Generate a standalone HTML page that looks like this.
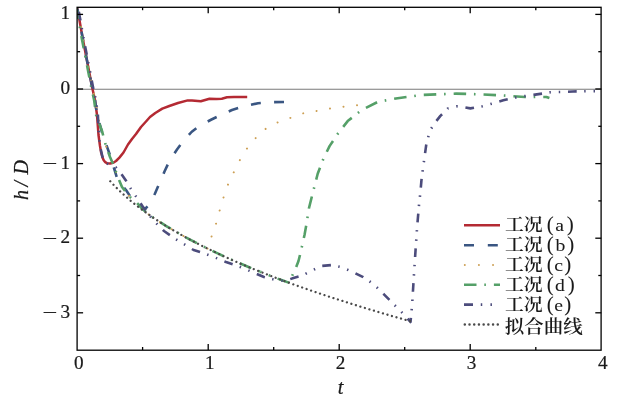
<!DOCTYPE html>
<html><head><meta charset="utf-8"><style>html,body{margin:0;padding:0;background:#fff;overflow:hidden}svg{display:block}</style></head>
<body><svg width="628" height="401" viewBox="0 0 628 401">
<rect width="628" height="401" fill="#fff"/>
<defs><clipPath id="pa"><rect x="77.1" y="7.3" width="524.2" height="342.9"/></clipPath></defs>
<line x1="77.1" y1="89.3" x2="601.3" y2="89.3" stroke="#7a7a7a" stroke-width="1.1"/>
<g clip-path="url(#pa)">
<polyline points="77.2,7.5 83.0,40.0 92.5,89.0 95.0,100.0 97.0,115.0 98.5,135.0 100.0,146.0 101.1,152.4 102.5,157.5 103.7,160.2 105.3,162.2 107.2,163.3 110.0,163.5 113.3,162.8 116.0,161.0 119.4,157.6 123.5,152.5 128.0,144.5 132.0,139.0 136.0,134.0 141.0,127.0 146.0,121.5 150.0,117.0 155.3,113.0 162.3,108.6 169.3,106.0 178.0,103.0 187.7,100.4 192.0,100.4 200.8,101.3 209.5,98.7 216.5,99.0 221.8,98.7 227.0,97.3 234.0,96.9 247.2,96.9" fill="none" stroke="#b42a33" stroke-width="2.5" stroke-dasharray="none" stroke-dashoffset="0" stroke-linecap="butt" stroke-linejoin="round"/>
<polyline points="77.2,7.5 83.0,40.0 92.5,89.0 95.0,100.0 97.0,115.0 100.0,125.0 103.0,136.0 106.0,144.0 110.0,155.0 114.0,168.0 117.0,178.0 121.0,184.0 126.0,190.0 130.0,196.0 136.0,202.5 142.0,207.5 145.5,208.5 149.0,205.0 152.0,200.0 155.0,193.5 158.0,186.5 161.0,179.5 164.5,171.5 168.0,164.0 172.0,157.0 177.0,149.5 183.0,141.5 191.5,132.0 200.0,125.5 211.5,119.5 222.0,114.5 232.0,110.0 245.0,106.0 258.0,103.2 270.0,102.2 284.0,102.0" fill="none" stroke="#3a5682" stroke-width="2.6" stroke-dasharray="10 13.3" stroke-dashoffset="22.1" stroke-linecap="butt" stroke-linejoin="round"/>
<polyline points="77.6,7.5 83.4,40.0 92.9,89.0 95.4,100.0 97.4,115.0 102.0,131.0 106.0,146.0 110.0,157.0 114.0,166.0 117.0,175.0 122.0,187.0 130.0,197.0 137.0,203.0 143.0,209.5 149.2,214.9 154.1,218.2 159.0,221.5 163.9,224.6 168.8,227.6 173.7,230.5 178.7,233.4 183.6,236.1 188.5,238.8 193.4,241.4 198.3,244.0 203.2,246.4 208.2,248.9 211.7,236.0 216.2,223.2 219.9,209.7 224.0,195.8 228.0,184.6 234.0,171.8 240.0,159.9 245.9,149.9 253.9,139.9 263.9,129.9 276.0,123.0 289.6,118.2 303.0,113.4 316.4,111.0 329.8,108.6 343.2,106.7 356.6,105.2 362.0,104.6" fill="none" stroke="#cda055" stroke-width="2.0" stroke-dasharray="0.01 13.6" stroke-dashoffset="7.4" stroke-linecap="round" stroke-linejoin="round"/>
<polyline points="76.3,7.5 82.1,40.0 91.6,89.0 94.1,100.0 96.1,115.0 102.0,131.0 106.0,146.0 110.0,157.0 114.0,166.0 117.0,175.0 122.0,187.0 130.0,197.0 137.0,203.0 143.0,209.5 149.2,214.9 155.0,218.9 160.9,222.7 166.7,226.3 172.5,229.8 178.4,233.2 184.2,236.5 190.1,239.7 195.9,242.7 201.8,245.7 207.6,248.6 213.4,251.4 219.3,254.2 225.1,256.9 231.0,259.5 236.8,262.0 242.7,264.5 248.5,267.0 254.3,269.4 260.2,271.7" fill="none" stroke="#55a068" stroke-width="2.6" stroke-dasharray="12.5 7.8 1.6 8" stroke-dashoffset="1.04999999999999" stroke-linecap="butt" stroke-linejoin="round"/>
<polyline points="260.2,271.7 266.0,274.1 271.9,276.3 277.7,278.6 283.6,280.7 289.4,282.9 292.5,275.0 296.0,267.5 298.5,261.0 300.5,253.0 302.5,244.0 304.5,235.0 306.5,224.0 309.0,208.0 312.0,196.0 317.7,173.8 323.7,157.9 329.7,145.9 337.7,133.9 347.7,121.1 361.7,110.0 377.6,102.0 395.9,98.5 421.7,95.0 456.1,93.6 481.9,94.4 503.4,95.5 524.9,97.0 546.4,97.0 549.4,98.0" fill="none" stroke="#55a068" stroke-width="2.6" stroke-dasharray="12.5 7.8 1.6 8" stroke-dashoffset="11.158844637219588" stroke-linecap="butt" stroke-linejoin="round"/>
<polyline points="78.1,7.5 83.9,40.0 93.4,89.0 95.9,100.0 97.9,115.0 98.8,135.0 100.0,146.0 102.5,157.0 104.5,162.0 110.0,165.0 116.0,167.5 120.5,172.7 125.7,180.2 131.0,189.0 137.0,198.0 143.0,207.0 150.0,216.0 155.0,222.0 164.0,231.0 174.0,238.0 182.0,243.0 193.6,250.0 206.0,254.0 215.0,257.5 226.0,262.0 235.0,265.0 244.0,268.4 252.0,272.0 264.0,277.0 276.0,280.0 285.0,281.0 293.5,278.0 302.5,275.5 310.2,271.4 321.4,266.0 331.9,265.0 342.3,267.4 352.8,272.0 363.2,277.2 373.7,284.2 384.2,294.6 394.6,305.1 405.1,315.6 410.5,322.0 412.1,305.1 413.8,277.2 415.6,249.3 417.3,224.9 419.1,204.0 420.4,192.3 421.6,178.8 423.4,165.3 426.3,144.4 429.9,130.9 434.4,123.4 440.4,115.9 447.9,108.4 456.9,106.3 464.7,107.4 470.4,108.4 482.3,106.3 492.8,103.4 503.3,100.3 518.0,97.0 533.5,94.9 542.1,93.6 550.7,92.2 560.3,92.0 573.0,91.5 587.2,91.2 601.0,91.1" fill="none" stroke="#4c4c7c" stroke-width="2.6" stroke-dasharray="8.7 7.5 1.45 7.9 1.45 7.8" stroke-dashoffset="30.25" stroke-linecap="butt" stroke-linejoin="round"/>
<polyline points="108.9,179.8 114.0,185.3 119.0,190.3 124.1,195.0 129.1,199.5 134.1,203.6 139.2,207.6 144.2,211.3 149.3,214.9 154.3,218.4 159.3,221.7 164.4,224.9 169.4,228.0 174.5,230.9 179.5,233.8 184.5,236.7 189.6,239.4 194.6,242.0 199.6,244.6 204.7,247.2 209.7,249.6 214.8,252.0 219.8,254.4 224.8,256.7 229.9,259.0 234.9,261.2 240.0,263.4 245.0,265.5 250.0,267.6 255.1,269.7 260.1,271.7 265.2,273.7 270.2,275.7 275.2,277.6 280.3,279.5 285.3,281.4 290.3,283.2 295.4,285.1 300.4,286.9 305.5,288.6 310.5,290.4 315.5,292.1 320.6,293.8 325.6,295.5 330.7,297.2 335.7,298.8 340.7,300.4 345.8,302.0 350.8,303.6 355.8,305.2 360.9,306.8 365.9,308.3 371.0,309.8 376.0,311.3 381.0,312.8 386.1,314.3 391.1,315.8 396.2,317.2 401.2,318.6 406.2,320.1 411.3,321.5" fill="none" stroke="#4a4a4a" stroke-width="2.3" stroke-dasharray="0.01 4.7" stroke-dashoffset="2.7" stroke-linecap="round" stroke-linejoin="round"/>
</g>
<g stroke="#000" stroke-width="1.3"><line x1="142.6" y1="350" x2="142.6" y2="347"/><line x1="142.6" y1="7.2" x2="142.6" y2="10.2"/><line x1="208.2" y1="350" x2="208.2" y2="344"/><line x1="208.2" y1="7.2" x2="208.2" y2="13.2"/><line x1="273.7" y1="350" x2="273.7" y2="347"/><line x1="273.7" y1="7.2" x2="273.7" y2="10.2"/><line x1="339.2" y1="350" x2="339.2" y2="344"/><line x1="339.2" y1="7.2" x2="339.2" y2="13.2"/><line x1="404.7" y1="350" x2="404.7" y2="347"/><line x1="404.7" y1="7.2" x2="404.7" y2="10.2"/><line x1="470.2" y1="350" x2="470.2" y2="344"/><line x1="470.2" y1="7.2" x2="470.2" y2="13.2"/><line x1="535.8" y1="350" x2="535.8" y2="347"/><line x1="535.8" y1="7.2" x2="535.8" y2="10.2"/><line x1="77.1" y1="312.8" x2="83.1" y2="312.8"/><line x1="601.3" y1="312.8" x2="595.3" y2="312.8"/><line x1="77.1" y1="275.5" x2="80.1" y2="275.5"/><line x1="601.3" y1="275.5" x2="598.3" y2="275.5"/><line x1="77.1" y1="238.2" x2="83.1" y2="238.2"/><line x1="601.3" y1="238.2" x2="595.3" y2="238.2"/><line x1="77.1" y1="200.9" x2="80.1" y2="200.9"/><line x1="601.3" y1="200.9" x2="598.3" y2="200.9"/><line x1="77.1" y1="163.6" x2="83.1" y2="163.6"/><line x1="601.3" y1="163.6" x2="595.3" y2="163.6"/><line x1="77.1" y1="126.3" x2="80.1" y2="126.3"/><line x1="601.3" y1="126.3" x2="598.3" y2="126.3"/><line x1="77.1" y1="89.0" x2="83.1" y2="89.0"/><line x1="601.3" y1="89.0" x2="595.3" y2="89.0"/><line x1="77.1" y1="51.7" x2="80.1" y2="51.7"/><line x1="601.3" y1="51.7" x2="598.3" y2="51.7"/><line x1="77.1" y1="14.4" x2="83.1" y2="14.4"/><line x1="601.3" y1="14.4" x2="595.3" y2="14.4"/></g>
<rect x="77.1" y="7.3" width="524.0" height="342.9" fill="none" stroke="#000" stroke-width="1.3"/>
<g fill="#1a1a1a"><text x="78.7" y="368.7" text-anchor="middle" font-family="Liberation Serif, serif" stroke="#1a1a1a" stroke-width="0.22" font-size="19.2">0</text><text x="209.8" y="368.7" text-anchor="middle" font-family="Liberation Serif, serif" stroke="#1a1a1a" stroke-width="0.22" font-size="19.2">1</text><text x="340.6" y="368.7" text-anchor="middle" font-family="Liberation Serif, serif" stroke="#1a1a1a" stroke-width="0.22" font-size="19.2">2</text><text x="471.6" y="368.7" text-anchor="middle" font-family="Liberation Serif, serif" stroke="#1a1a1a" stroke-width="0.22" font-size="19.2">3</text><text x="602.8" y="368.7" text-anchor="middle" font-family="Liberation Serif, serif" stroke="#1a1a1a" stroke-width="0.22" font-size="19.2">4</text><text x="65.2" y="19.4" text-anchor="middle" font-family="Liberation Serif, serif" stroke="#1a1a1a" stroke-width="0.22" font-size="19.2">1</text><text x="65.2" y="94.0" text-anchor="middle" font-family="Liberation Serif, serif" stroke="#1a1a1a" stroke-width="0.22" font-size="19.2">0</text><text x="42.4" y="170.1" font-family="Liberation Serif, serif" stroke="#1a1a1a" stroke-width="0.22" font-size="19.2" textLength="14.8" lengthAdjust="spacingAndGlyphs">−</text><text x="65.2" y="168.6" text-anchor="middle" font-family="Liberation Serif, serif" stroke="#1a1a1a" stroke-width="0.22" font-size="19.2">1</text><text x="42.4" y="244.7" font-family="Liberation Serif, serif" stroke="#1a1a1a" stroke-width="0.22" font-size="19.2" textLength="14.8" lengthAdjust="spacingAndGlyphs">−</text><text x="65.2" y="243.2" text-anchor="middle" font-family="Liberation Serif, serif" stroke="#1a1a1a" stroke-width="0.22" font-size="19.2">2</text><text x="42.4" y="319.3" font-family="Liberation Serif, serif" stroke="#1a1a1a" stroke-width="0.22" font-size="19.2" textLength="14.8" lengthAdjust="spacingAndGlyphs">−</text><text x="65.2" y="317.8" text-anchor="middle" font-family="Liberation Serif, serif" stroke="#1a1a1a" stroke-width="0.22" font-size="19.2">3</text><text x="340.6" y="393.6" text-anchor="middle" font-family="Liberation Serif, serif" stroke="#1a1a1a" stroke-width="0.22" font-style="italic" font-size="20.5">t</text><text transform="translate(27.6,200) rotate(-90)" x="-0.1 13.5 25.5" y="0" font-family="Liberation Serif, serif" stroke="#1a1a1a" stroke-width="0.22" font-style="italic" font-size="20">h/D</text></g>
<g fill="#1a1a1a"><line x1="464" y1="225.3" x2="500" y2="225.3" stroke="#b42a33" stroke-width="2.4" stroke-dasharray="none" stroke-linecap="butt"/><text x="504.9" y="231.4" font-family="Liberation Serif, Noto Serif CJK SC, serif" font-weight="600" font-size="18" textLength="37.8" lengthAdjust="spacingAndGlyphs">工况</text><text x="546.7" y="231.4" font-family="Liberation Serif, serif" stroke="#1a1a1a" stroke-width="0.05" font-size="21">(</text><text x="566.73" y="231.4" font-family="Liberation Serif, serif" stroke="#1a1a1a" stroke-width="0.05" font-size="21">)</text><text transform="translate(559.80,231.4) scale(1.12,1)" x="-4.09" y="0" font-family="Liberation Serif, serif" stroke="#1a1a1a" stroke-width="0.05" font-size="17.6">a</text><line x1="464" y1="245.2" x2="500" y2="245.2" stroke="#3a5682" stroke-width="2.6" stroke-dasharray="10 13.8" stroke-linecap="butt"/><text x="504.9" y="251.3" font-family="Liberation Serif, Noto Serif CJK SC, serif" font-weight="600" font-size="18" textLength="37.8" lengthAdjust="spacingAndGlyphs">工况</text><text x="546.7" y="251.3" font-family="Liberation Serif, serif" stroke="#1a1a1a" stroke-width="0.05" font-size="21">(</text><text x="567.33" y="251.3" font-family="Liberation Serif, serif" stroke="#1a1a1a" stroke-width="0.05" font-size="21">)</text><text transform="translate(560.10,251.3) scale(1.12,1)" x="-4.07" y="0" font-family="Liberation Serif, serif" stroke="#1a1a1a" stroke-width="0.05" font-size="17.6">b</text><line x1="464.8" y1="265.0" x2="500" y2="265.0" stroke="#cda055" stroke-width="2.0" stroke-dasharray="0.01 14.1" stroke-linecap="round"/><text x="504.9" y="271.1" font-family="Liberation Serif, Noto Serif CJK SC, serif" font-weight="600" font-size="18" textLength="37.8" lengthAdjust="spacingAndGlyphs">工况</text><text x="546.7" y="271.1" font-family="Liberation Serif, serif" stroke="#1a1a1a" stroke-width="0.05" font-size="21">(</text><text x="564.33" y="271.1" font-family="Liberation Serif, serif" stroke="#1a1a1a" stroke-width="0.05" font-size="21">)</text><text transform="translate(558.60,271.1) scale(1.12,1)" x="-3.97" y="0" font-family="Liberation Serif, serif" stroke="#1a1a1a" stroke-width="0.05" font-size="17.6">c</text><line x1="464" y1="284.7" x2="500" y2="284.7" stroke="#55a068" stroke-width="2.6" stroke-dasharray="12.5 7.8 1.6 8" stroke-linecap="butt"/><text x="504.9" y="290.8" font-family="Liberation Serif, Noto Serif CJK SC, serif" font-weight="600" font-size="18" textLength="37.8" lengthAdjust="spacingAndGlyphs">工况</text><text x="546.7" y="290.8" font-family="Liberation Serif, serif" stroke="#1a1a1a" stroke-width="0.05" font-size="21">(</text><text x="567.63" y="290.8" font-family="Liberation Serif, serif" stroke="#1a1a1a" stroke-width="0.05" font-size="21">)</text><text transform="translate(560.25,290.8) scale(1.12,1)" x="-4.61" y="0" font-family="Liberation Serif, serif" stroke="#1a1a1a" stroke-width="0.05" font-size="17.6">d</text><line x1="464" y1="304.6" x2="500" y2="304.6" stroke="#4c4c7c" stroke-width="2.6" stroke-dasharray="9 7.75 1.5 8.2 1.5 8.05" stroke-linecap="butt"/><text x="504.9" y="310.7" font-family="Liberation Serif, Noto Serif CJK SC, serif" font-weight="600" font-size="18" textLength="37.8" lengthAdjust="spacingAndGlyphs">工况</text><text x="546.7" y="310.7" font-family="Liberation Serif, serif" stroke="#1a1a1a" stroke-width="0.05" font-size="21">(</text><text x="564.33" y="310.7" font-family="Liberation Serif, serif" stroke="#1a1a1a" stroke-width="0.05" font-size="21">)</text><text transform="translate(558.60,310.7) scale(1.12,1)" x="-3.94" y="0" font-family="Liberation Serif, serif" stroke="#1a1a1a" stroke-width="0.05" font-size="17.6">e</text><line x1="464.8" y1="324.5" x2="500" y2="324.5" stroke="#4a4a4a" stroke-width="2.5" stroke-dasharray="0.01 4.7" stroke-linecap="round"/><text x="504.8" y="333.2" font-family="Liberation Serif, Noto Serif CJK SC, serif" font-weight="600" font-size="18" textLength="78" lengthAdjust="spacingAndGlyphs">拟合曲线</text></g>
</svg></body></html>
